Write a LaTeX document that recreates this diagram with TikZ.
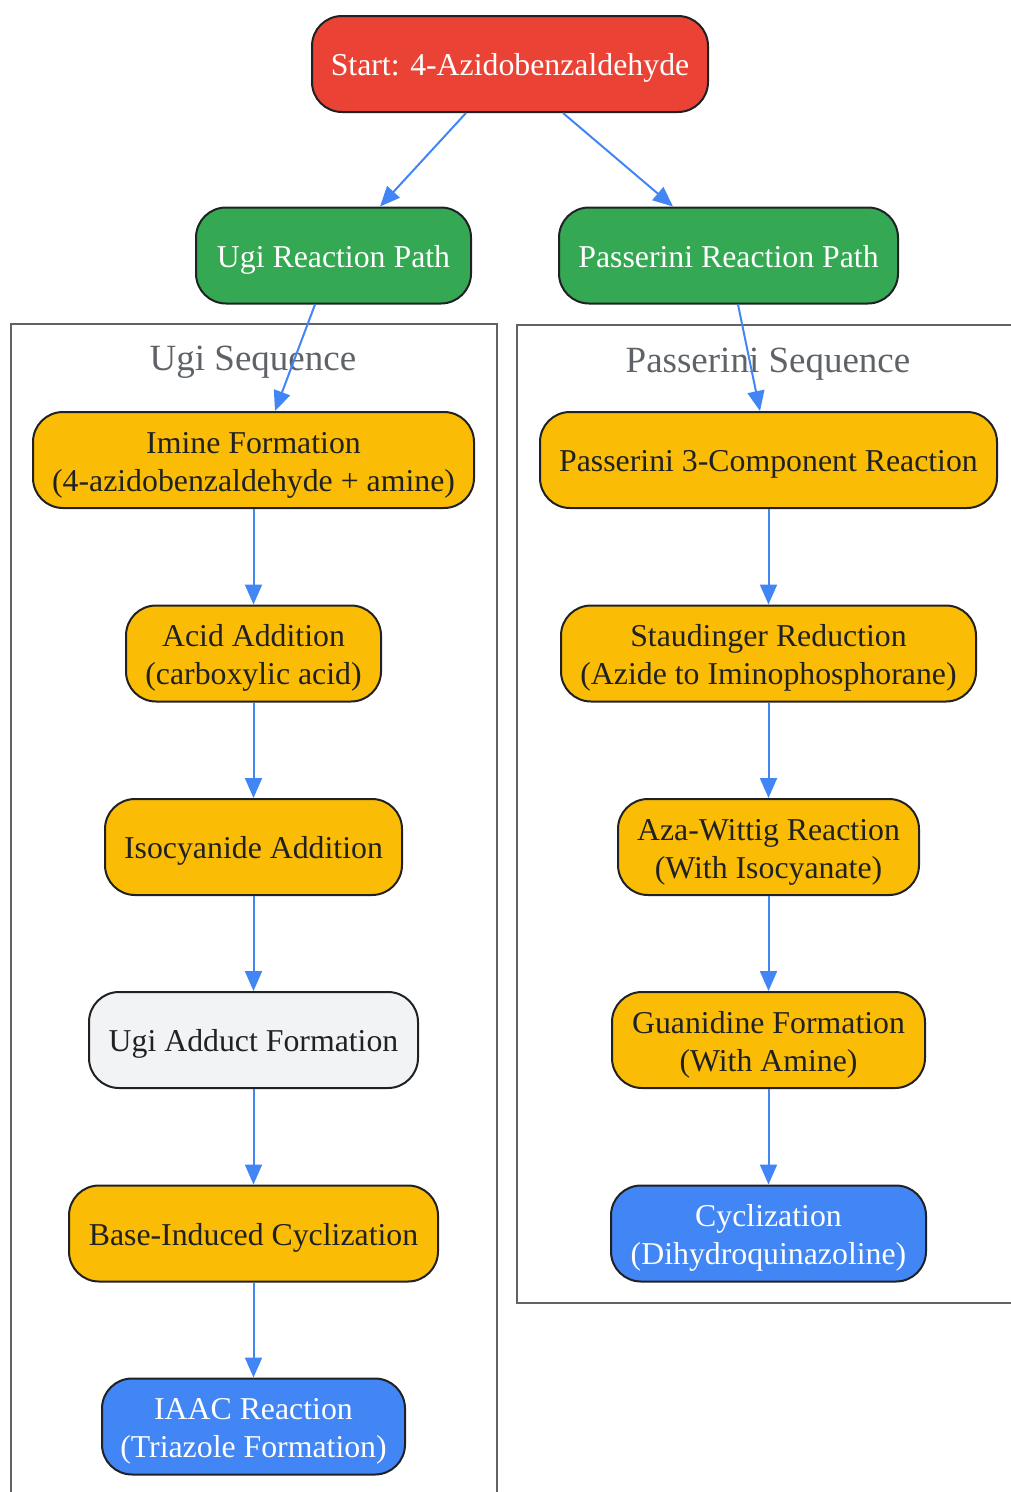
\documentclass[tikz,border=0pt]{standalone}
\usepackage{fontspec}
\setmainfont{Liberation Serif}
\usetikzlibrary{positioning, arrows.meta}
\definecolor{cred}{HTML}{EA4335}
\definecolor{cgreen}{HTML}{34A853}
\definecolor{cyellow}{HTML}{FBBC05}
\definecolor{cblue}{HTML}{4285F4}
\definecolor{clight}{HTML}{F1F3F4}
\definecolor{cdark}{HTML}{202124}
\definecolor{cgray}{HTML}{5F6368}
\begin{document}
\begin{tikzpicture}[x=1pt, y=-1pt,
  box/.style={draw=cdark, line width=2pt, rounded corners=30pt, minimum height=96pt, align=center, font=\fontsize{31.8}{38}\selectfont, inner sep=0pt,
    text height=31.8pt, text depth=8pt},
  two/.style={text height=70pt, text depth=8pt},
  startbox/.style={box, fill=cred, text=white},
  pathbox/.style={box, fill=cgreen, text=white},
  stepbox/.style={box, fill=cyellow, text=cdark},
  adductbox/.style={box, fill=clight, text=cdark},
  endbox/.style={box, fill=cblue, text=white},
  cluster/.style={draw=cgray, line width=2pt},
  clabel/.style={text=cgray, font=\fontsize{37}{44}\selectfont},
  arr/.style={-{Triangle[length=20pt, width=17pt]}, draw=cblue, line width=2pt}]
  \useasboundingbox (0,0) rectangle (1010,1492);

  % clusters
  \draw[cluster] (11,324) rectangle (497,1510);
  \draw[cluster] (517,325) rectangle (1020,1303);
  \node[clabel] (ulab) at (253,362) {Ugi Sequence};
  \node[clabel] (plab) at (768,364) {Passerini Sequence};

  \node[startbox, minimum width=396pt] (start) at (510,64) {Start: 4-Azidobenzaldehyde};
  \node[pathbox, minimum width=275pt] (ugi) at (333.5,255.5) {Ugi Reaction Path};
  \node[pathbox, minimum width=339pt] (pass) at (728.5,255.5) {Passerini Reaction Path};

  % Ugi branch
  \node[stepbox, two, minimum width=441pt] (u1) at (253.5,460) {Imine Formation\\(4-azidobenzaldehyde + amine)};
  \node[stepbox, two, minimum width=255pt] (u2) at (253.5,653.5) {Acid Addition\\(carboxylic acid)};
  \node[stepbox, minimum width=297pt] (u3) at (253.5,847) {Isocyanide Addition};
  \node[adductbox, minimum width=329pt] (u4) at (253.5,1040) {Ugi Adduct Formation};
  \node[stepbox, minimum width=369pt] (u5) at (253.5,1233.5) {Base-Induced Cyclization};
  \node[endbox, two, minimum width=303pt] (u6) at (253.5,1426.5) {IAAC Reaction\\(Triazole Formation)};

  % Passerini branch
  \node[stepbox, minimum width=457pt] (p1) at (768.5,460) {Passerini 3-Component Reaction};
  \node[stepbox, two, minimum width=415pt] (p2) at (768.5,653.5) {Staudinger Reduction\\(Azide to Iminophosphorane)};
  \node[stepbox, two, minimum width=301pt] (p3) at (768.5,847) {Aza-Wittig Reaction\\(With Isocyanate)};
  \node[stepbox, two, minimum width=313pt] (p4) at (768.5,1040) {Guanidine Formation\\(With Amine)};
  \node[endbox, two, minimum width=315pt] (p5) at (768.5,1233.5) {Cyclization\\(Dihydroquinazoline)};

  \draw[arr] ([xshift=-44pt]start.south) -- ([xshift=46.5pt]ugi.north);
  \draw[arr] ([xshift=53pt]start.south) -- ([xshift=-55.5pt]pass.north);
  \draw[arr] ([xshift=-18.5pt]ugi.south) -- ([xshift=21.5pt]u1.north);
  \draw[arr] ([xshift=9.5pt]pass.south) -- ([xshift=-8.5pt]p1.north);

  \foreach \a/\b in {u1/u2, u2/u3, u3/u4, u4/u5, u5/u6, p1/p2, p2/p3, p3/p4, p4/p5}
    \draw[arr] (\a) -- (\b);
\end{tikzpicture}
\end{document}
